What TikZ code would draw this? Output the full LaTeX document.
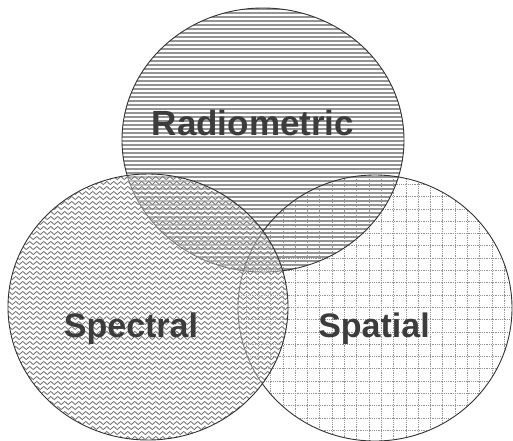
\documentclass[tikz,border=0pt]{standalone}
\usepackage{fontspec}
\setmainfont{Liberation Sans}
\usetikzlibrary{decorations.pathmorphing}
\definecolor{txt}{HTML}{3C3C3C}
\definecolor{edge}{HTML}{333333}
\tikzset{
  outline/.style={draw=edge, line width=0.9pt},
  hline/.style={draw=black!42, line width=1.2pt},
  zz/.style={draw=black!55, line width=0.8pt, decorate, decoration={zigzag, segment length=7pt, amplitude=1.6pt}},
  gridline/.style={draw=black!42, line width=0.8pt, densely dotted},
  label/.style={text=txt, inner sep=0pt, anchor=base}
}
\begin{document}
\begin{tikzpicture}[x=1pt, y=-1pt]
\useasboundingbox (0,0) rectangle (513,440);
\fill[white] (0,0) rectangle (513,440);
\coordinate (ctop) at (263,140);
\coordinate (cleft) at (148,307);
\coordinate (cright) at (375,308);
% right circle grid
\begin{scope}
  \clip (cright) ellipse [x radius=137, y radius=133];
  \foreach \x in {0,12.3,...,520} \draw[gridline] (\x,170) -- (\x,445);
  \foreach \y in {172,184.3,...,445} \draw[gridline] (230,\y) -- (515,\y);
\end{scope}
% top circle horizontal lines
\begin{scope}
  \clip (ctop) ellipse [x radius=141, y radius=132];
  \foreach \y in {9,13,...,275} \draw[hline] (115,\y) -- (410,\y);
\end{scope}
\draw[outline] (cright) ellipse [x radius=137, y radius=133];
\draw[outline] (ctop) ellipse [x radius=141, y radius=132];
% left circle
\fill[white, opacity=0.4] (cleft) ellipse [x radius=140, y radius=133];
\begin{scope}
  \clip (cleft) ellipse [x radius=140, y radius=133];
  \foreach \y in {173,178,...,445} \draw[zz] (0,\y) -- (295,\y);
\end{scope}
\draw[outline] (cleft) ellipse [x radius=140, y radius=133];
% labels
\node[label, font=\bfseries\fontsize{35}{40}\selectfont] (rad) at (253,135) {Radiometric};
\node[label, font=\bfseries\fontsize{34}{40}\selectfont] (spec) at (131,337) {Spectral};
\node[label, font=\bfseries\fontsize{34}{40}\selectfont] (spat) at (374,337) {Spatial};
\end{tikzpicture}
\end{document}
